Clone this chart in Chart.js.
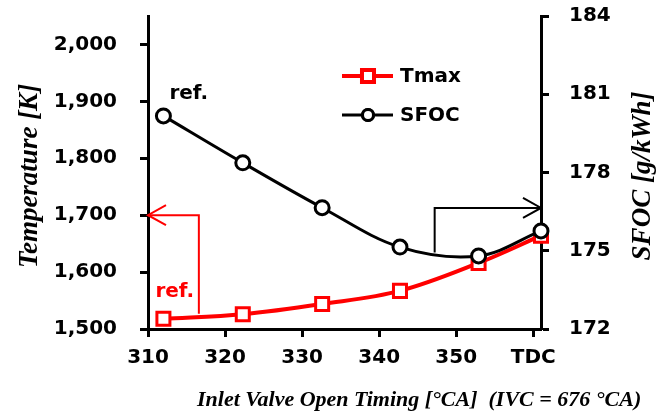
<!DOCTYPE html>
<html>
<head>
<meta charset="utf-8">
<script src="https://cdn.jsdelivr.net/npm/chart.js@4.4.1/dist/chart.umd.min.js"></script>
<style>
  html, body { margin: 0; padding: 0; background: #fff; }
  #wrap { width: 672px; height: 412px; position: relative; }
</style>
</head>
<body>
<div id="wrap"><canvas id="chart"></canvas></div>
<script>
// data
const ivoTiming = [312, 322.3, 332.6, 342.7, 352.9, 361];
const tmaxValues = [1518, 1526, 1544, 1567, 1616, 1664];
const sfocValues = [180.17, 178.37, 176.65, 175.14, 174.80, 175.76];

const xTickValues = [310, 320, 330, 340, 350, 360];
const xTickLabels = ["310", "320", "330", "340", "350", "TDC"];
const tempTickValues = [1500, 1600, 1700, 1800, 1900, 2000];
const sfocTickValues = [172, 175, 178, 181, 184];

// arrows telling which axis belongs to which curve
const tmaxArrowX = [316.6, 316.6, 310];
const tmaxArrowY = [1527, 1700, 1700];
const sfocArrowX = [347.2, 347.2, 361];
const sfocArrowY = [174.93, 176.64, 176.64];

document.addEventListener("DOMContentLoaded", function () {
    const RED = "#ff0000";
    const BLACK = "#000000";
    const tickFont = { family: "DejaVu Sans", size: 20, weight: "bold" };
    const titleFont = "italic bold 27px 'Liberation Serif'";

    function axisGrid() {
        return { drawOnChartArea: false, tickLength: 8, tickWidth: 3, color: BLACK };
    }

    // fixed box sizes so the plot area lands where it is in the figure
    function fixBox(size) {
        return function (s) {
            if (s.isHorizontal()) s.height = size; else s.width = size;
            s.paddingTop = 0;
            s.paddingBottom = 0;
            s.paddingLeft = 0;
            s.paddingRight = 0;
        };
    }

    // arrow with an open head at the last point
    function drawArrow(ctx, pts, color) {
        ctx.strokeStyle = color;
        ctx.lineWidth = 2;
        ctx.beginPath();
        pts.forEach((p, i) => i === 0 ? ctx.moveTo(p.x, p.y) : ctx.lineTo(p.x, p.y));
        ctx.stroke();
        const tip = pts[pts.length - 1];
        const prev = pts[pts.length - 2];
        const dir = Math.sign(tip.x - prev.x);
        ctx.beginPath();
        ctx.moveTo(tip.x - dir * 18, tip.y - 10);
        ctx.lineTo(tip.x, tip.y);
        ctx.lineTo(tip.x - dir * 18, tip.y + 10);
        ctx.stroke();
    }

    const extrasPlugin = {
        id: "extras",
        afterDatasetsDraw(chart) {
            const ctx = chart.ctx;
            const xs = chart.scales.x;
            const yT = chart.scales.y;
            const yS = chart.scales.y1;
            ctx.save();

            drawArrow(ctx, tmaxArrowX.map((v, i) => ({ x: xs.getPixelForValue(v), y: yT.getPixelForValue(tmaxArrowY[i]) })), RED);
            drawArrow(ctx, sfocArrowX.map((v, i) => ({ x: xs.getPixelForValue(v), y: yS.getPixelForValue(sfocArrowY[i]) })), BLACK);

            // "ref." labels next to the first points
            ctx.font = "bold 20px 'DejaVu Sans'";
            ctx.textAlign = "left";
            ctx.textBaseline = "middle";
            ctx.fillStyle = BLACK;
            ctx.fillText("ref.", xs.getPixelForValue(ivoTiming[0]) + 6, yS.getPixelForValue(sfocValues[0]) - 22);
            ctx.fillStyle = RED;
            ctx.fillText("ref.", xs.getPixelForValue(ivoTiming[0]) - 8, yT.getPixelForValue(tmaxValues[0]) - 27);

            // legend inside the plot
            chart.data.datasets.forEach((ds, i) => {
                const ly = 76 + i * 39;
                ctx.strokeStyle = ds.borderColor;
                ctx.lineWidth = ds.borderWidth;
                ctx.beginPath();
                ctx.moveTo(342, ly);
                ctx.lineTo(393, ly);
                ctx.stroke();
                Chart.helpers.drawPoint(ctx, {
                    pointStyle: ds.pointStyle, radius: i === 0 ? 8.5 : 5.5, borderWidth: 3
                }, 368, ly);
                ctx.fillStyle = "#fff";
                ctx.fill();
                ctx.stroke();
                ctx.fillStyle = BLACK;
                ctx.font = "bold 20px 'DejaVu Sans'";
                ctx.fillText(ds.label, 400, ly + 1);
            });

            // axis titles
            ctx.fillStyle = BLACK;
            ctx.font = titleFont;
            ctx.textAlign = "center";
            ctx.save();
            ctx.translate(30, 176);
            ctx.rotate(-Math.PI / 2);
            ctx.fillText("Temperature [K]", 0, 0);
            ctx.restore();
            ctx.save();
            ctx.translate(643, 176);
            ctx.rotate(-Math.PI / 2);
            ctx.fillText("SFOC [g/kWh]", 0, 0);
            ctx.restore();
            ctx.font = "italic bold 22px 'Liberation Serif'";
            ctx.textAlign = "left";
            ctx.fillText("Inlet Valve Open Timing [°CA]  (IVC = 676 °CA)", 197, 400);
            ctx.restore();
        }
    };

    const ctx = document.getElementById("chart").getContext("2d");
    new Chart(ctx, {
        type: "line",
        data: {
            datasets: [
                {
                    label: "Tmax",
                    data: ivoTiming.map((x, i) => ({ x: x, y: tmaxValues[i] })),
                    yAxisID: "y",
                    borderColor: RED,
                    borderWidth: 4,
                    backgroundColor: "#fff",
                    pointStyle: "rect",
                    pointRadius: 9.2,
                    pointBorderWidth: 3,
                    tension: 0.35,
                    clip: false,
                    order: 2
                },
                {
                    label: "SFOC",
                    data: ivoTiming.map((x, i) => ({ x: x, y: sfocValues[i] })),
                    yAxisID: "y1",
                    borderColor: BLACK,
                    borderWidth: 3,
                    backgroundColor: "#fff",
                    pointStyle: "circle",
                    pointRadius: 7,
                    pointBorderWidth: 3,
                    tension: 0.35,
                    clip: false,
                    order: 1
                }
            ]
        },
        options: {
            responsive: true,
            maintainAspectRatio: false,
            animation: false,
            layout: { padding: { top: 16, left: 0, right: 0, bottom: 0 } },
            plugins: {
                legend: { display: false },
                tooltip: { enabled: false }
            },
            scales: {
                x: {
                    type: "linear",
                    position: "bottom",
                    min: 310,
                    max: 361,
                    afterBuildTicks: s => { s.ticks = xTickValues.map(v => ({ value: v })); },
                    afterFit: fixBox(83),
                    ticks: {
                        font: tickFont, color: BLACK, padding: 9, maxRotation: 0, autoSkip: false,
                        callback: v => xTickLabels[xTickValues.indexOf(v)]
                    },
                    grid: axisGrid(),
                    border: { color: BLACK, width: 3 }
                },
                y: {
                    position: "left",
                    min: 1500,
                    max: 2050,
                    afterBuildTicks: s => { s.ticks = tempTickValues.map(v => ({ value: v })); },
                    afterFit: fixBox(148),
                    ticks: {
                        font: tickFont, color: BLACK, padding: 23,
                        callback: v => v.toLocaleString("en-US")
                    },
                    grid: axisGrid(),
                    border: { color: BLACK, width: 3 }
                },
                y1: {
                    position: "right",
                    min: 172,
                    max: 184,
                    afterBuildTicks: s => { s.ticks = sfocTickValues.map(v => ({ value: v })); },
                    afterFit: fixBox(131),
                    ticks: { font: tickFont, color: BLACK, padding: 20 },
                    grid: axisGrid(),
                    border: { color: BLACK, width: 3 }
                }
            }
        },
        plugins: [extrasPlugin]
    });
});
</script>
</body>
</html>
